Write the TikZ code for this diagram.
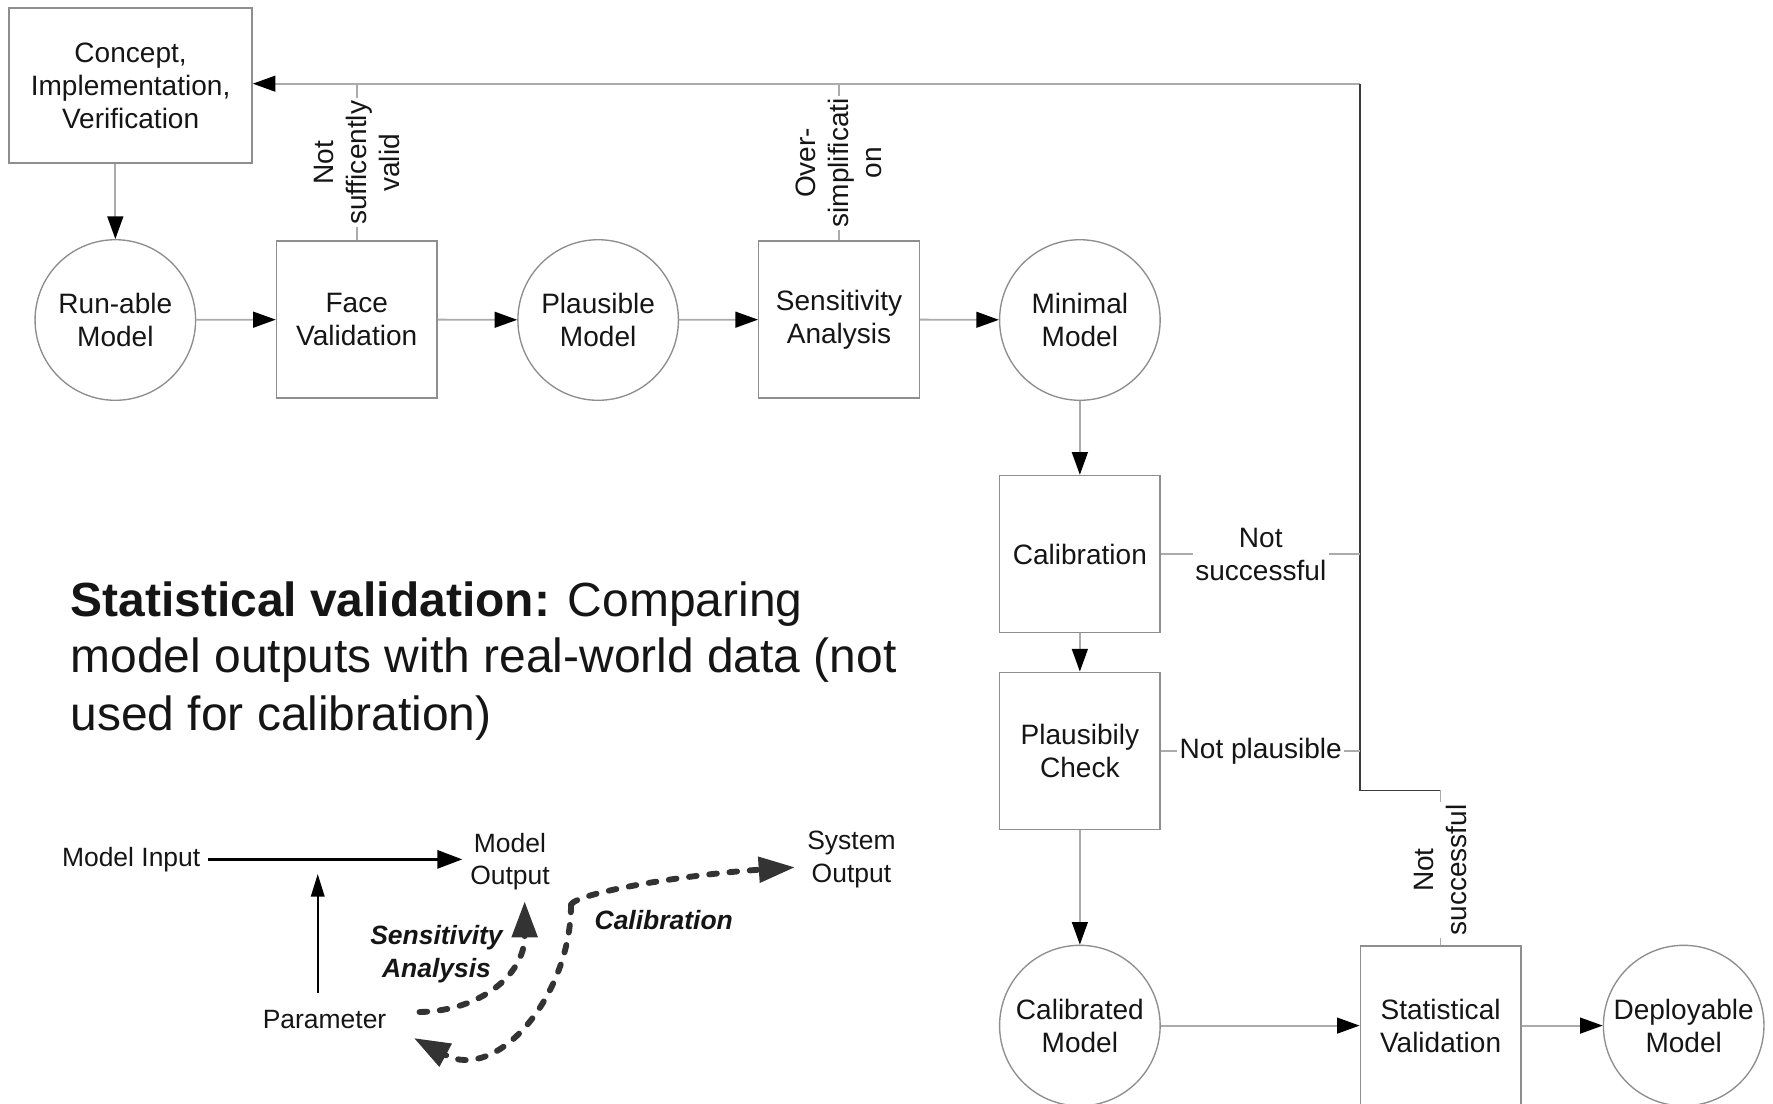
\documentclass[tikz,border=0pt]{standalone}
\usepackage{fontspec}
\setmainfont{Liberation Sans}
\usetikzlibrary{arrows.meta,calc}

\definecolor{edgegray}{HTML}{8E8E8E}
\definecolor{linegray}{HTML}{ABABAB}
\definecolor{darkline}{HTML}{3C3C3C}
\definecolor{dashgray}{HTML}{333333}
\definecolor{inkblack}{HTML}{151515}

\newcommand{\nodefont}{\fontsize{12.4}{14.6}\selectfont}
\newcommand{\smallfont}{\fontsize{11.7}{14.5}\selectfont}
\newcommand{\parafont}{\fontsize{21.2}{25}\selectfont}

\begin{document}
\begin{tikzpicture}[x=0.5pt,y=-0.5pt,
  every node/.style={text=inkblack},
  procbox/.style={draw=edgegray, line width=0.6pt, rectangle, minimum width=71pt,
    minimum height=69.5pt, inner sep=0pt, align=center, font=\nodefont},
  statenode/.style={draw=edgegray, line width=0.6pt, circle, minimum size=71pt,
    inner sep=0pt, align=center, font=\nodefont},
  conn/.style={draw=linegray, line width=0.8pt},
  flow/.style={conn, -{Triangle[length=10pt,width=7pt,color=black]}},
  backline/.style={draw=darkline, line width=0.8pt},
  branchlabel/.style={fill=white, inner sep=1pt, align=center, font=\nodefont},
  smalltext/.style={align=center, font=\smallfont},
  dasharrow/.style={draw=dashgray, line width=2.6pt, line cap=round,
    dash pattern=on 3.4pt off 5.6pt},
  bigtip/.style={-{Triangle[length=16pt,width=11pt,color=dashgray]}}
]
\useasboundingbox (0,0) rectangle (1568,976);

% ---- process chain ----
\node[procbox, minimum width=107.5pt, minimum height=68.5pt] (concept) at (115.5,75.5)
  {Concept,\\Implementation,\\Verification};
\node[statenode] (runable) at (102,283) {Run-able\\Model};
\node[procbox] (face) at (315.5,282.5) {Face\\Validation};
\node[statenode] (plausible) at (529,283) {Plausible\\Model};
\node[procbox] (sens) at (742,282.5) {Sensitivity\\Analysis};
\node[statenode] (minimal) at (955,283) {Minimal\\Model};
\node[procbox] (calib) at (955,490) {Calibration};
\node[procbox] (pcheck) at (955,664) {Plausibily\\Check};
\node[statenode] (calibrated) at (955,907) {Calibrated\\Model};
\node[procbox, minimum height=70.5pt] (statv) at (1274,907) {Statistical\\Validation};
\node[statenode] (deploy) at (1489,907) {Deployable\\Model};

\draw[flow] (concept.south -| runable) -- (runable);
\draw[flow] (runable) -- (face);
\draw[flow] (face) -- (plausible);
\draw[flow] (plausible) -- (sens);
\draw[flow] (sens) -- (minimal);
\draw[flow] (minimal) -- (calib);
\draw[flow] (calib) -- (pcheck);
\draw[flow] (pcheck) -- (calibrated);
\draw[flow] (calibrated) -- (statv);
\draw[flow] (statv) -- (deploy);

% ---- feedback routes ----
\coordinate (topright) at (1203,74);
\coordinate (stepleft) at (1203,699);
\coordinate (stepright) at (1274,699);

\draw[conn, -{Triangle[length=10pt,width=7pt,color=black]}]
  (topright) -- (topright -| concept.east);
\draw[backline] (topright) -- (stepleft) -- (stepright);
\draw[conn] (stepright) -- (statv.north);
\node[branchlabel, rotate=90] (lblstat) at (1274,769.5) {Not\\successful};

\draw[conn] (face.north) -- (face.north |- topright);
\node[branchlabel, rotate=90] (lblface) at (315.5,144) {Not\\sufficently\\valid};

\draw[conn] (sens.north) -- (sens.north |- topright);
\node[branchlabel, rotate=90] (lblsens) at (742,144) {Over-\\simplificati\\on};

\draw[conn] (calib.east) -- (calib.east -| topright);
\node[branchlabel] (lblcalib) at (1115,490.5) {Not\\successful};

\draw[conn] (pcheck.east) -- (pcheck.east -| topright);
\node[branchlabel] (lblplaus) at (1115,664) {Not plausible};

% ---- explanatory paragraph ----
\node[anchor=base west, inner sep=0pt, font=\parafont] (para1) at (62,545)
  {\textbf{Statistical validation:} Comparing};
\node[anchor=base west, inner sep=0pt, font=\parafont] (para2) at (62,595)
  {model outputs with real-world data (not};
\node[anchor=base west, inner sep=0pt, font=\parafont] (para3) at (62,646)
  {used for calibration)};

% ---- small scheme ----
\node[smalltext] (minput) at (116,760) {Model Input};
\node[smalltext] (moutput) at (451,762) {Model\\Output};
\node[smalltext] (sysout) at (753,760) {System\\Output};
\node[smalltext] (param) at (287,902) {Parameter};

\draw[draw=black, line width=1.2pt, -{Triangle[length=11pt,width=8pt]}]
  (minput.east) -- (minput.east -| moutput.west);
\coordinate (pbase) at (281,878);
\coordinate (ptop) at (281,773);
\draw[draw=black, line width=0.8pt, -{Triangle[length=10pt,width=6pt]}] (pbase) -- (ptop);

\coordinate (sastart) at (371,895);
\coordinate (satip) at (464,797);
\draw[dasharrow, bigtip] (sastart) .. controls (425,894) and (464,862) .. (satip);

\coordinate (calleft) at (366,918);
\coordinate (calcorner) at (505,800);
\coordinate (calright) at (703,767);
\draw[dasharrow, bigtip] (calcorner) .. controls (505,880) and (440,958) .. (calleft);
\draw[dasharrow, bigtip] (calcorner) .. controls (510,790) and (600,774) .. (calright);

\node[smalltext, font=\smallfont\bfseries\itshape] (lblsa) at (386,843.5) {Sensitivity\\Analysis};
\node[smalltext, font=\smallfont\bfseries\itshape] (lblcal) at (587,814) {Calibration};
\end{tikzpicture}
\end{document}
